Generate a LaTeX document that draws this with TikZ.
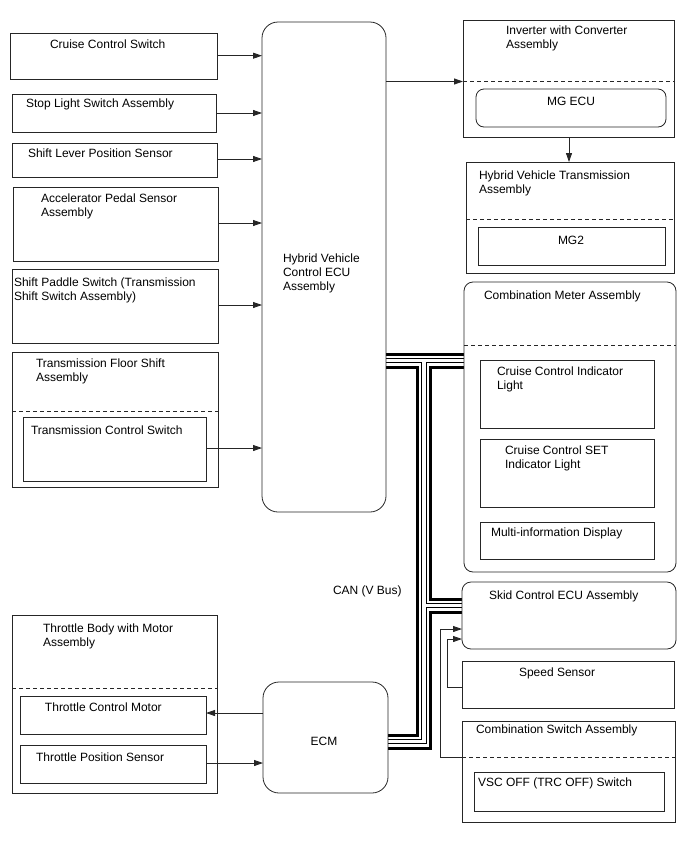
\documentclass[tikz,border=0pt]{standalone}
\usepackage{fontspec}
\setmainfont{Liberation Sans}
\usetikzlibrary{arrows.meta,backgrounds}
\begin{document}
\begin{tikzpicture}[x=1pt,y=-1pt,
  box/.style={draw=black!85, line width=0.8pt, inner sep=0pt, outer sep=0pt, anchor=north west},
  rbox/.style={box, rounded corners=#1},
  txt/.style={inner sep=0pt, outer sep=0pt, anchor=base west, align=left, font=\fontsize{12}{14}\selectfont},
  ctxt/.style={txt, anchor=base},
  arr/.style={draw=black!85, line width=0.8pt, -{Triangle[length=9pt,width=6pt]}},
  dline/.style={draw=black!85, line width=0.8pt, dash pattern=on 4pt off 3pt},
]
\useasboundingbox (0,0) rectangle (688,852);

% ---------- left column ----------
\node[box, minimum width=207pt, minimum height=46pt] (ccs) at (10,33) {};
\node[txt] (ccst) at (50,48.5) {Cruise Control Switch};

\node[box, minimum width=204pt, minimum height=38pt] (sls) at (12,94) {};
\node[txt] (slst) at (26,107) {Stop Light Switch Assembly};

\node[box, minimum width=205pt, minimum height=34pt] (slp) at (12,143) {};
\node[txt] (slpt) at (28,157) {Shift Lever Position Sensor};

\node[box, minimum width=205pt, minimum height=74pt] (aps) at (13,187) {};
\node[txt] (apst) at (41,216) {Accelerator Pedal Sensor\\Assembly};

\node[box, minimum width=206pt, minimum height=74pt] (sps) at (12,269) {};
\node[txt] (spst) at (14,300) {Shift Paddle Switch (Transmission\\Shift Switch Assembly)};

\node[box, minimum width=206pt, minimum height=135pt] (tfs) at (12,352) {};
\node[txt] (tfst) at (36,381) {Transmission Floor Shift\\Assembly};
\draw[dline] (tfs.west |- 0,411) -- (tfs.east |- 0,411);
\node[box, minimum width=183pt, minimum height=64pt] (tcs) at (23,417) {};
\node[txt] (tcst) at (31,434) {Transmission Control Switch};

% ---------- HV ECU ----------
\node[rbox=16pt, minimum width=124pt, minimum height=490pt] (hv) at (262,22) {};
\node[txt] (hvt) at (283,290) {Hybrid Vehicle\\Control ECU\\Assembly};

% ---------- right column ----------
\node[box, minimum width=211pt, minimum height=117pt] (inv) at (463,20) {};
\node[txt] (invt) at (506,48) {Inverter with Converter\\Assembly};
\draw[dline] (inv.west |- 0,81.5) -- (inv.east |- 0,81.5);
\node[rbox=8pt, minimum width=190pt, minimum height=38pt] (mgecu) at (476,89) {};
\node[ctxt] (mgecut) at (571,105) {MG ECU};

\node[box, minimum width=208pt, minimum height=111pt] (hvta) at (466,162) {};
\node[txt] (hvtat) at (479,193) {Hybrid Vehicle Transmission\\Assembly};
\draw[dline] (hvta.west |- 0,219) -- (hvta.east |- 0,219);
\node[box, minimum width=187pt, minimum height=38pt] (mg2) at (478,227) {};
\node[ctxt] (mg2t) at (571,244) {MG2};

\node[rbox=9pt, minimum width=212pt, minimum height=290pt] (cma) at (464,282) {};
\node[txt] (cmat) at (484,299) {Combination Meter Assembly};
\draw[dline] (cma.west |- 0,345.5) -- (cma.east |- 0,345.5);
\node[box, minimum width=174pt, minimum height=68pt] (ccil) at (480,360) {};
\node[txt] (ccilt) at (497,389) {Cruise Control Indicator\\Light};
\node[box, minimum width=174pt, minimum height=68pt] (cset) at (480,439) {};
\node[txt] (csett) at (505,468) {Cruise Control SET\\Indicator Light};
\node[box, minimum width=174pt, minimum height=37pt] (mid) at (480,522) {};
\node[txt] (midt) at (491,536) {Multi-information Display};

\node[rbox=9pt, minimum width=214pt, minimum height=67pt] (skid) at (462,582) {};
\node[txt] (skidt) at (489,599) {Skid Control ECU Assembly};

\node[box, minimum width=212pt, minimum height=47pt] (spd) at (462,661) {};
\node[txt] (spdt) at (519,676) {Speed Sensor};

\node[box, minimum width=213pt, minimum height=101pt] (csa) at (462,721) {};
\node[txt] (csat) at (476,733) {Combination Switch Assembly};
\draw[dline] (csa.west |- 0,757) -- (csa.east |- 0,757);
\node[box, minimum width=190pt, minimum height=39pt] (vsc) at (474,772) {};
\node[txt] (vsct) at (478,786) {VSC OFF (TRC OFF) Switch};

% ---------- bottom left ----------
\node[box, minimum width=205pt, minimum height=178pt] (tb) at (12,615) {};
\node[txt] (tbt) at (43,646) {Throttle Body with Motor\\Assembly};
\draw[dline] (tb.west |- 0,688) -- (tb.east |- 0,688);
\node[box, minimum width=186pt, minimum height=38pt] (tcm) at (20,696) {};
\node[txt] (tcmt) at (45,711) {Throttle Control Motor};
\node[box, minimum width=186pt, minimum height=38pt] (tps) at (20,745) {};
\node[txt] (tpst) at (36,761) {Throttle Position Sensor};

\node[rbox=16pt, minimum width=125pt, minimum height=111pt] (ecm) at (263,682) {};
\node[ctxt] (ecmt) at (324,745) {ECM};

\node[txt] (can) at (333,594) {CAN (V Bus)};

% ---------- arrows ----------
\draw[arr] (ccs.east |- 0,55.7) -- (hv.west |- 0,55.7);
\draw[arr] (sls.east |- 0,113) -- (hv.west |- 0,113);
\draw[arr] (slp.east |- 0,159) -- (hv.west |- 0,159);
\draw[arr] (aps.east |- 0,223) -- (hv.west |- 0,223);
\draw[arr] (sps.east |- 0,305) -- (hv.west |- 0,305);
\draw[arr] (tcs.east |- 0,448) -- (hv.west |- 0,448);

\draw[arr] (hv.east |- 0,81.5) -- (inv.west |- 0,81.5);
\draw[arr] (inv.south -| 569,0) -- (hvta.north -| 569,0);

\draw[arr] (ecm.west |- 0,713) -- (tcm.east |- 0,713);
\draw[arr] (tps.east |- 0,763) -- (ecm.west |- 0,763);

\coordinate (c1) at (440,757);
\coordinate (c2) at (440,629);
\draw[arr] (csa.west |- c1) -- (c1) -- (c2) -- (skid.west |- c2);
\coordinate (s1) at (447,687);
\coordinate (s2) at (447,639);
\draw[arr] (spd.west |- s1) -- (s1) -- (s2) -- (skid.west |- s2);

% ---------- CAN bus ----------
\coordinate (bT) at (424,360.5);
\coordinate (bB) at (424,741.5);
\coordinate (bS) at (424,605.5);
\begin{pgfonlayer}{background}
\foreach \w/\c in {16/black,10/white,5.5/black,3.5/white}{
  \draw[line width=\w pt, draw=\c] (hv.east |- bT) -- (cma.west |- bT);
  \draw[line width=\w pt, draw=\c] (bT) -- (bB) -- (ecm.east |- bB);
  \draw[line width=\w pt, draw=\c] (bS) -- (skid.west |- bS);
}
\end{pgfonlayer}
\end{tikzpicture}
\end{document}
